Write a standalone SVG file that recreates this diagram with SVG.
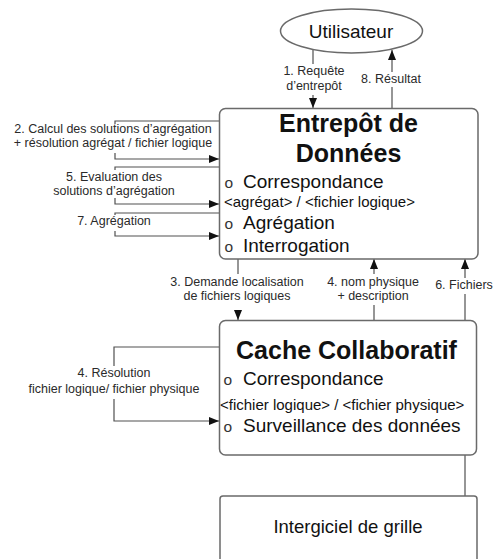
<svg xmlns="http://www.w3.org/2000/svg" width="493" height="559" viewBox="0 0 493 559">
  <defs>
    <marker id="arrow" viewBox="0 0 10 8" refX="10" refY="4" markerWidth="10" markerHeight="8" markerUnits="userSpaceOnUse" orient="auto">
      <path d="M0,0 L10,4 L0,8 Z" fill="#111"/>
    </marker>
    <style>
      text { font-family: "Liberation Sans", Arial, sans-serif; fill: #111; }
      .node { fill: #fff; stroke: #6a6a6a; stroke-width: 1.5; }
      .wire { fill: none; stroke: #505050; stroke-width: 1.2; }
      .arrowed { marker-end: url(#arrow); }
      .bg { fill: #fff; stroke: none; }
      .lbl { font-size: 12.5px; fill: #2a2a2a; text-anchor: middle; }
      .title { font-size: 25px; font-weight: bold; text-anchor: middle; }
      .item { font-size: 19px; }
      .sub { font-size: 15px; }
      .dot { font-size: 15.5px; fill: #333; }
    </style>
  </defs>

  <rect width="493" height="559" fill="#fff"/>

  <!-- connectors -->
  <g id="connectors">
    <path class="wire arrowed" d="M313,50 V108"/>
    <path class="wire arrowed" d="M392,108 V50"/>
    <path class="wire arrowed" d="M219,121 H115 V159 H219"/>
    <path class="wire arrowed" d="M219,167 H115 V204 H219"/>
    <path class="wire arrowed" d="M219,213 H115 V236 H219"/>
    <path class="wire arrowed" d="M238,259 V320"/>
    <path class="wire arrowed" d="M374,320 V259"/>
    <path class="wire arrowed" d="M465,320 V259"/>
    <path class="wire arrowed" d="M219,347 H114 V421 H219"/>
    <path class="wire" d="M465,455 V496"/>

    <!-- labels with blank backing -->
    <rect class="bg" x="281" y="64" width="66" height="31"/>
    <text class="lbl" x="314" y="75">1. Requête</text>
    <text class="lbl" x="314" y="90">d’entrepôt</text>

    <rect class="bg" x="358" y="72" width="66" height="15"/>
    <text class="lbl" x="391" y="83">8. Résultat</text>

    <rect class="bg" x="10" y="124" width="207" height="29"/>
    <text class="lbl" x="113" y="133">2. Calcul des solutions d’agrégation</text>
    <text class="lbl" x="113" y="147">+ résolution agrégat / fichier logique</text>

    <rect class="bg" x="50" y="170" width="130" height="28"/>
    <text class="lbl" x="114" y="181">5. Evaluation des</text>
    <text class="lbl" x="114" y="194.5">solutions d’agrégation</text>

    <rect class="bg" x="72" y="215" width="85" height="16"/>
    <text class="lbl" x="114" y="225">7. Agrégation</text>

    <rect class="bg" x="165" y="274" width="144" height="36"/>
    <text class="lbl" x="237" y="286">3. Demande localisation</text>
    <text class="lbl" x="237" y="300">de fichiers logiques</text>

    <rect class="bg" x="323" y="274" width="101" height="31"/>
    <text class="lbl" x="373" y="286">4. nom physique</text>
    <text class="lbl" x="373" y="300">+ description</text>

    <rect class="bg" x="433" y="278" width="60" height="16"/>
    <text class="lbl" x="464" y="289">6. Fichiers</text>

    <rect class="bg" x="25" y="366" width="180" height="33"/>
    <text class="lbl" x="114" y="377">4. Résolution</text>
    <text class="lbl" x="114" y="393">fichier logique/ fichier physique</text>
  </g>

  <!-- user -->
  <g id="utilisateur">
    <ellipse class="node" cx="351.5" cy="31" rx="71" ry="22"/>
    <text x="351" y="38" font-size="19" text-anchor="middle">Utilisateur</text>
  </g>

  <!-- data warehouse -->
  <g id="entrepot">
    <rect class="node" x="219.5" y="108.5" width="258.5" height="150.5" rx="6"/>
    <text class="title" x="348.5" y="132">Entrepôt de</text>
    <text class="title" x="348.5" y="162">Données</text>
    <text class="dot" x="224.5" y="188">o</text>
    <text class="item" x="243" y="188">Correspondance</text>
    <text class="sub" x="224" y="207">&lt;agrégat&gt; / &lt;fichier logique&gt;</text>
    <text class="dot" x="224.5" y="229">o</text>
    <text class="item" x="243" y="229">Agrégation</text>
    <text class="dot" x="224.5" y="252">o</text>
    <text class="item" x="243" y="252">Interrogation</text>
  </g>

  <!-- collaborative cache -->
  <g id="cache">
    <rect class="node" x="219.5" y="320.5" width="257" height="134.5" rx="6"/>
    <text class="title" x="346.5" y="359">Cache Collaboratif</text>
    <text class="dot" x="223.5" y="385">o</text>
    <text class="item" x="243" y="385">Correspondance</text>
    <text class="sub" x="220" y="410">&lt;fichier logique&gt; / &lt;fichier physique&gt;</text>
    <text class="dot" x="223.5" y="432">o</text>
    <text class="item" x="243" y="432">Surveillance des données</text>
  </g>

  <!-- grid middleware -->
  <g id="intergiciel">
    <rect class="node" x="220" y="496" width="257" height="75" rx="3"/>
    <text x="348" y="533" font-size="18.5" text-anchor="middle">Intergiciel de grille</text>
  </g>
</svg>
